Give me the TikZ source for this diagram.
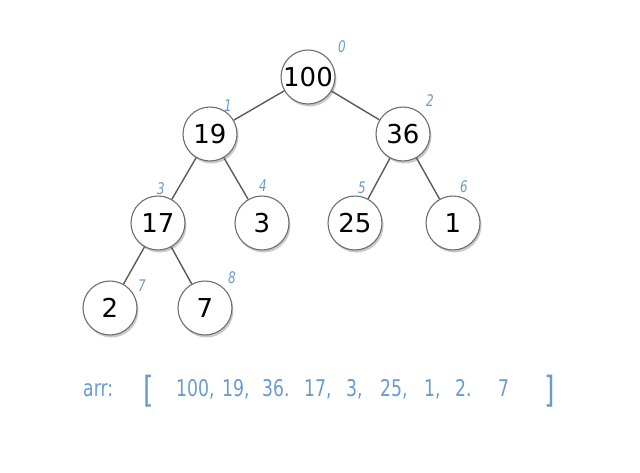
\documentclass[tikz,border=0pt]{standalone}
\usepackage{fontspec}
\setmainfont{DejaVu Sans}
\newfontfamily\handfont[FakeStretch=0.75]{DejaVu Sans}
\usetikzlibrary{shadows}
\definecolor{edgegray}{RGB}{90,90,90}
\definecolor{ringgray}{RGB}{110,110,110}
\definecolor{hand}{RGB}{105,155,205}
\tikzset{
  heapnode/.style={circle, draw=ringgray, line width=1.1pt, fill=white,
    minimum size=54pt, inner sep=0pt, font=\fontsize{26}{26}\selectfont,
    drop shadow={shadow xshift=1.5pt, shadow yshift=-2.5pt, opacity=0.35, fill=black!60}},
  heapedge/.style={edgegray, line width=1.4pt},
  idx/.style={text=hand, font=\handfont\fontsize{16}{16}\selectfont\slshape, inner sep=0pt},
  arrtxt/.style={text=hand, font=\handfont\fontsize{23}{23}\selectfont, inner sep=0pt, anchor=base west},
  brack/.style={text=hand, font=\handfont\fontsize{36}{36}\selectfont, inner sep=0pt, anchor=base west},
}
\begin{document}
\begin{tikzpicture}[x=1pt,y=-1pt]
\useasboundingbox (0,0) rectangle (640,472);
\node[heapnode] (n0) at (308,77) {100};
\node[heapnode] (n1) at (210,134) {19};
\node[heapnode] (n2) at (403,134) {36};
\node[heapnode] (n3) at (158,223) {17};
\node[heapnode] (n4) at (262,223) {3};
\node[heapnode] (n5) at (355,223) {25};
\node[heapnode] (n6) at (453,223) {1};
\node[heapnode] (n7) at (110,308) {2};
\node[heapnode] (n8) at (205,308) {7};
\draw[heapedge] (n0) -- (n1);
\draw[heapedge] (n0) -- (n2);
\draw[heapedge] (n1) -- (n3);
\draw[heapedge] (n1) -- (n4);
\draw[heapedge] (n2) -- (n5);
\draw[heapedge] (n2) -- (n6);
\draw[heapedge] (n3) -- (n7);
\draw[heapedge] (n3) -- (n8);
\node[idx] (i0) at (342,47) {0};
\node[idx] (i1) at (228,106) {1};
\node[idx] (i2) at (430,101) {2};
\node[idx] (i3) at (161,189) {3};
\node[idx] (i4) at (263,186) {4};
\node[idx] (i5) at (362,188) {5};
\node[idx] (i6) at (464,187) {6};
\node[idx] (i7) at (142,286) {7};
\node[idx] (i8) at (232,278) {8};
\node[arrtxt] (a0) at (83,396) {arr:};
\node[brack] (a1) at (143,402) {[};
\node[arrtxt] (a2) at (176,396) {100,};
\node[arrtxt] (a3) at (222,396) {19,};
\node[arrtxt] (a4) at (262,396) {36.};
\node[arrtxt] (a5) at (304,396) {17,};
\node[arrtxt] (a6) at (346,396) {3,};
\node[arrtxt] (a7) at (380,396) {25,};
\node[arrtxt] (a8) at (424,396) {1,};
\node[arrtxt] (a9) at (455,396) {2.};
\node[arrtxt] (a10) at (498,396) {7};
\node[brack] (a11) at (544,402) {]};
\end{tikzpicture}
\end{document}
